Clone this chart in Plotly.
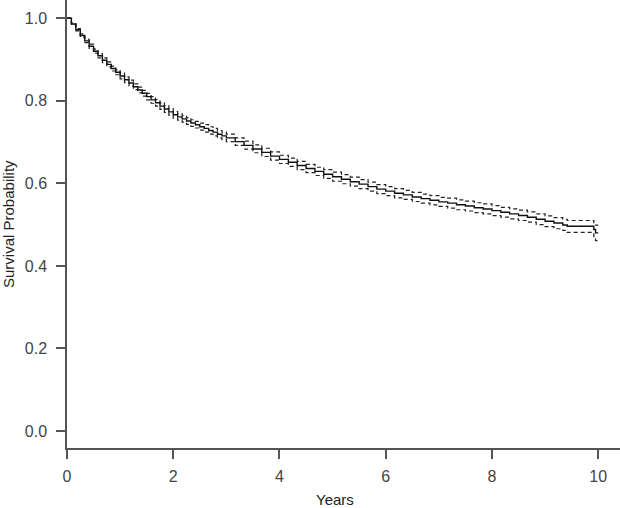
import plotly.graph_objects as go

# Kaplan-Meier estimate (years, survival, 95% band)
years = [0, 0.083, 0.167, 0.25, 0.333, 0.417, 0.5, 0.583, 0.667, 0.75, 0.833, 0.917,
         1.0, 1.083, 1.167, 1.25, 1.333, 1.417, 1.5, 1.583, 1.667, 1.75, 1.833, 1.917,
         2.0, 2.083, 2.167, 2.25, 2.333, 2.417, 2.5, 2.583, 2.667, 2.75, 2.833, 2.917,
         3.0, 3.167, 3.333, 3.5, 3.667, 3.833, 4.0, 4.167, 4.333, 4.5, 4.667, 4.833,
         5.0, 5.167, 5.333, 5.5, 5.667, 5.833, 6.0, 6.167, 6.333, 6.5, 6.667, 6.833,
         7.0, 7.167, 7.333, 7.5, 7.667, 7.833, 8.0, 8.167, 8.333, 8.5, 8.667, 8.833,
         9.0, 9.167, 9.333, 9.417, 9.917, 9.95, 10.0]

surv = [1.000, 0.986, 0.972, 0.958, 0.945, 0.932, 0.920, 0.909, 0.898, 0.888, 0.878, 0.869,
        0.860, 0.851, 0.843, 0.834, 0.826, 0.818, 0.810, 0.802, 0.795, 0.787, 0.780, 0.773,
        0.766, 0.761, 0.756, 0.751, 0.746, 0.742, 0.737, 0.733, 0.728, 0.724, 0.719, 0.715,
        0.710, 0.701, 0.692, 0.683, 0.675, 0.666, 0.658, 0.651, 0.643, 0.636, 0.629, 0.622,
        0.616, 0.610, 0.604, 0.598, 0.592, 0.586, 0.581, 0.576, 0.572, 0.567, 0.563, 0.559,
        0.555, 0.552, 0.548, 0.545, 0.541, 0.538, 0.534, 0.530, 0.526, 0.522, 0.518, 0.513,
        0.508, 0.504, 0.499, 0.496, 0.488, 0.480, 0.480]

upper = [1.000, 0.988, 0.975, 0.962, 0.949, 0.937, 0.925, 0.914, 0.904, 0.894, 0.884, 0.875,
         0.867, 0.858, 0.850, 0.841, 0.833, 0.825, 0.818, 0.810, 0.803, 0.795, 0.788, 0.781,
         0.774, 0.769, 0.764, 0.759, 0.754, 0.750, 0.746, 0.742, 0.737, 0.733, 0.728, 0.724,
         0.719, 0.710, 0.702, 0.693, 0.685, 0.676, 0.668, 0.661, 0.653, 0.646, 0.639, 0.633,
         0.627, 0.621, 0.615, 0.609, 0.603, 0.597, 0.592, 0.587, 0.583, 0.578, 0.574, 0.570,
         0.566, 0.564, 0.560, 0.557, 0.553, 0.550, 0.546, 0.542, 0.538, 0.535, 0.531, 0.526,
         0.521, 0.517, 0.513, 0.510, 0.503, 0.499, 0.499]

lower = [1.000, 0.984, 0.969, 0.954, 0.941, 0.927, 0.915, 0.904, 0.892, 0.882, 0.872, 0.863,
         0.853, 0.844, 0.836, 0.827, 0.819, 0.811, 0.802, 0.794, 0.787, 0.779, 0.772, 0.765,
         0.758, 0.753, 0.748, 0.743, 0.738, 0.734, 0.729, 0.724, 0.719, 0.715, 0.710, 0.706,
         0.701, 0.692, 0.683, 0.674, 0.665, 0.656, 0.648, 0.641, 0.633, 0.626, 0.619, 0.612,
         0.605, 0.599, 0.593, 0.587, 0.581, 0.575, 0.570, 0.565, 0.561, 0.556, 0.552, 0.548,
         0.544, 0.540, 0.536, 0.533, 0.529, 0.526, 0.522, 0.518, 0.514, 0.510, 0.506, 0.500,
         0.495, 0.490, 0.486, 0.481, 0.471, 0.461, 0.461]

x_ticks = [0, 2, 4, 6, 8, 10]
y_ticks = [0.0, 0.2, 0.4, 0.6, 0.8, 1.0]
y_labels = ["0.0", "0.2", "0.4", "0.6", "0.8", "1.0"]

FONT = "Arial, Liberation Sans, sans-serif"

fig = go.Figure()
for band in (upper, lower):
    fig.add_trace(go.Scatter(x=years, y=band, mode="lines", line_shape="hv",
                             line=dict(color="#222", width=1.2, dash="4px,3px")))
fig.add_trace(go.Scatter(x=years, y=surv, mode="lines", line_shape="hv",
                         line=dict(color="#111", width=1.4)))

tick_font = dict(family=FONT, size=16, color="#444")
fig.update_layout(
    width=620, height=508,
    margin=dict(l=67, r=0, t=0, b=60),
    paper_bgcolor="white", plot_bgcolor="white",
    showlegend=False,
    xaxis=dict(range=[0, 10.41], tickvals=x_ticks, showgrid=False, zeroline=False,
               showline=True, linecolor="#555", linewidth=1.5, automargin=False,
               ticks="outside", ticklen=9, tickwidth=1.5, tickcolor="#555",
               ticklabelstandoff=4, tickfont=tick_font),
    yaxis=dict(range=[-0.041, 1.044], tickvals=y_ticks, ticktext=y_labels,
               showgrid=False, zeroline=False, automargin=False,
               showline=True, linecolor="#555", linewidth=1.5,
               ticks="outside", ticklen=9, tickwidth=1.5, tickcolor="#555",
               ticklabelstandoff=6, tickfont=tick_font),
    annotations=[
        dict(text="Years", xref="paper", yref="paper", x=0.485, y=0,
             xanchor="center", yanchor="middle", yshift=-51, showarrow=False,
             font=dict(size=15, color="#222", family=FONT)),
        dict(text="Survival Probability", xref="paper", yref="paper", x=0, y=0.5,
             xanchor="center", yanchor="middle", xshift=-59, textangle=-90,
             showarrow=False, font=dict(size=15, color="#222", family=FONT)),
    ],
)

# page has a default 8px body margin; drop it so the figure sits at the corner
fig.write_html("out.html", config={"displayModeBar": False},
               post_script="document.body.style.margin='0';")
